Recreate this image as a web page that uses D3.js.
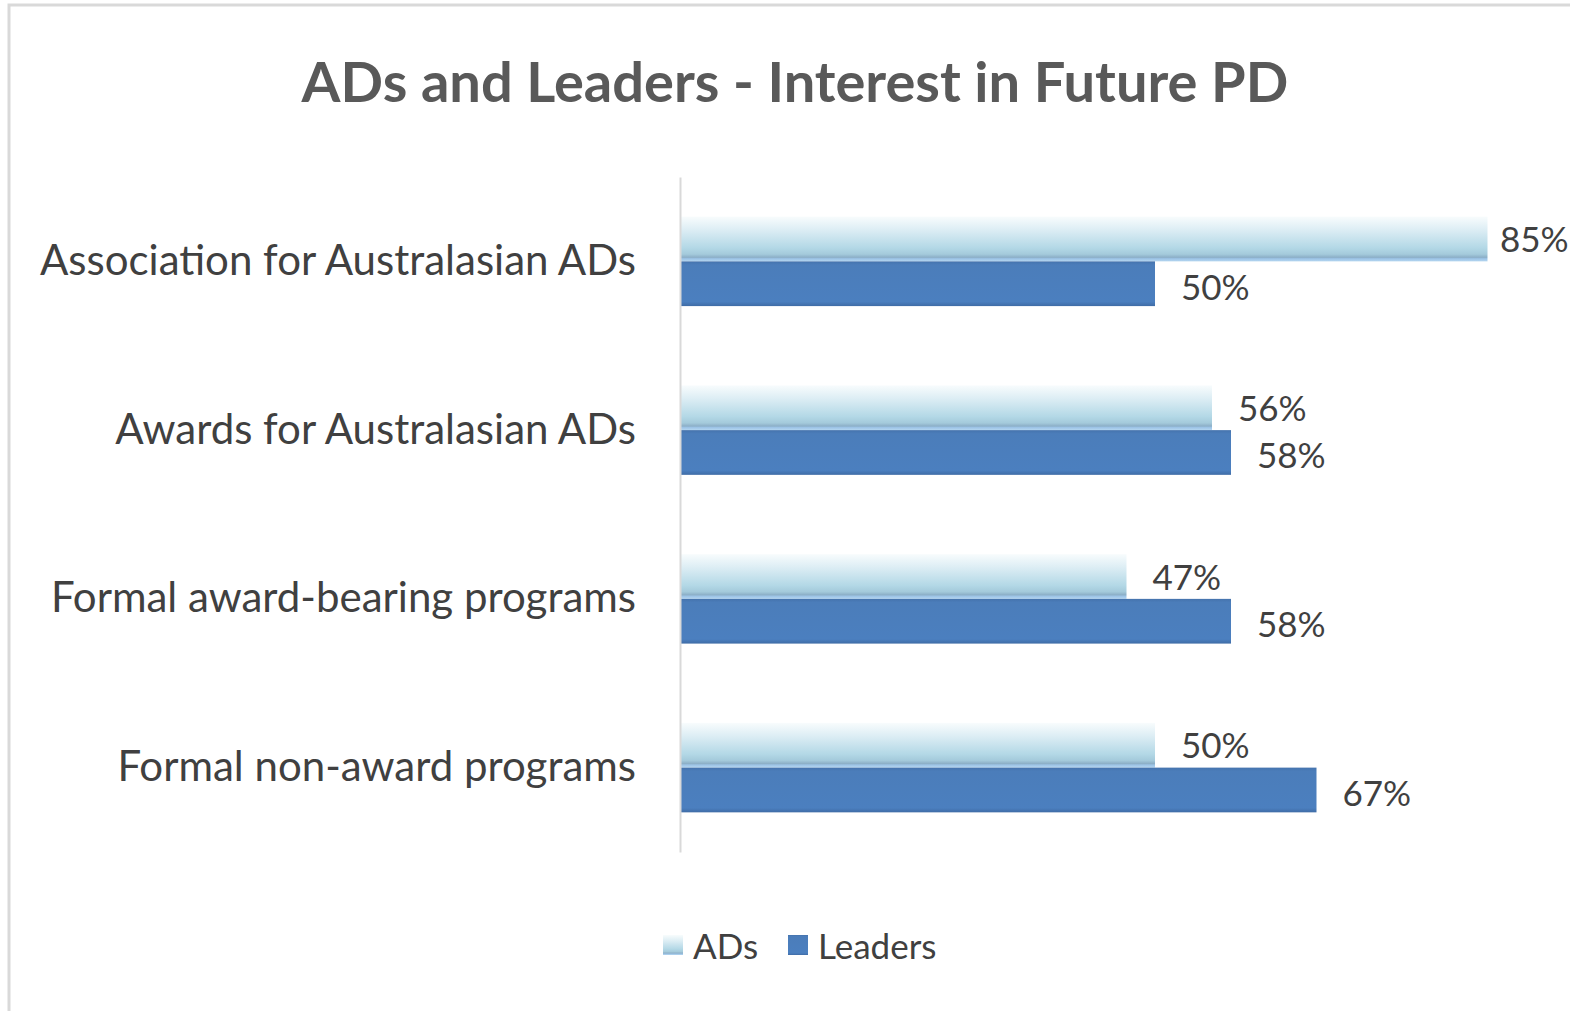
<!DOCTYPE html>
<html>
<head>
<meta charset="utf-8">
<script src="https://cdn.jsdelivr.net/npm/d3@7"></script>
<style>
  html, body { margin: 0; padding: 0; background: #fff; overflow: hidden; }
  text { font-family: Lato, "Open Sans", sans-serif; }
</style>
</head>
<body>
<div id="chart"></div>
<script>
const categories = [
  "Association for Australasian ADs",
  "Awards for Australasian ADs",
  "Formal award-bearing programs",
  "Formal non-award programs"
];
const adsValues = [85, 56, 47, 50];
const leadersValues = [50, 58, 58, 67];
const seriesNames = ["ADs", "Leaders"];

const width = 1570, height = 1011;
const textColor = "#404040";

const svg = d3.select("#chart").append("svg")
  .attr("width", width)
  .attr("height", height);

// gradients
const defs = svg.append("defs");
const adGrad = defs.append("linearGradient")
  .attr("id", "adGrad").attr("x1", 0).attr("y1", 0).attr("x2", 0).attr("y2", 1);
[["0%", "#f8fcfd"], ["30%", "#dcedf4"], ["70%", "#b3d8e6"], ["84%", "#a4cadb"],
 ["91%", "#8cafc7"], ["94%", "#9cc3e6"], ["100%", "#b4d6f0"]]
  .forEach(([o, c]) => adGrad.append("stop").attr("offset", o).attr("stop-color", c));

const ldGrad = defs.append("linearGradient")
  .attr("id", "ldGrad").attr("x1", 0).attr("y1", 0).attr("x2", 0).attr("y2", 1);
[["0%", "#4573ad"], ["8%", "#4b7dba"], ["90%", "#4b7fbf"], ["100%", "#3f6ca6"]]
  .forEach(([o, c]) => ldGrad.append("stop").attr("offset", o).attr("stop-color", c));

// frame
svg.append("rect")
  .attr("x", 9).attr("y", 5)
  .attr("width", width + 10).attr("height", height + 10)
  .attr("fill", "none")
  .attr("stroke", "#d9d9d9")
  .attr("stroke-width", 3);

// title
svg.append("text")
  .attr("x", 795)
  .attr("y", 80)
  .attr("text-anchor", "middle")
  .attr("dominant-baseline", "central")
  .style("font-size", "56px")
  .style("font-weight", "bold")
  .attr("fill", "#595959")
  .text("ADs and Leaders - Interest in Future PD");

const x = d3.scaleLinear().domain([0, 100]).range([680, 1630]);
const y = d3.scaleBand().domain(categories).range([177, 852])
  .paddingInner(0.47).paddingOuter(0.235);
const sub = d3.scaleBand().domain(seriesNames).range([0, y.bandwidth()]);

const data = categories.map((c, i) => ({ cat: c, values: [adsValues[i], leadersValues[i]] }));

const groups = svg.append("g").selectAll("g")
  .data(data)
  .join("g")
  .attr("transform", d => `translate(0,${y(d.cat)})`);

groups.selectAll("rect")
  .data(d => d.values.map((v, j) => ({ key: seriesNames[j], v })))
  .join("rect")
  .attr("x", x(0))
  .attr("y", d => sub(d.key))
  .attr("width", d => x(d.v) - x(0))
  .attr("height", sub.bandwidth())
  .attr("fill", d => d.key === "ADs" ? "url(#adGrad)" : "url(#ldGrad)");

groups.selectAll("text")
  .data(d => d.values.map((v, j) => ({ key: seriesNames[j], v })))
  .join("text")
  .attr("x", d => Math.min(x(d.v) + 26, 1500))
  .attr("y", d => sub(d.key) + sub.bandwidth() / 2 + (d.key === "ADs" ? -1 : 2))
  .attr("dominant-baseline", "central")
  .style("font-size", "35px")
  .attr("fill", textColor)
  .text(d => d.v + "%");

// category axis
const yAxis = svg.append("g")
  .attr("transform", `translate(${x(0)},0)`)
  .call(d3.axisLeft(y).tickSize(0).tickPadding(44));
yAxis.select(".domain").attr("stroke", "#d9d9d9").attr("stroke-width", 2);
yAxis.selectAll("text")
  .style("font-size", "42px")
  .style("font-family", "Lato, sans-serif")
  .attr("fill", textColor);

// legend
const legend = svg.append("g").attr("transform", "translate(663,945)");
const legendX = d3.scaleOrdinal().domain(seriesNames).range([0, 125]);
const items = legend.selectAll("g")
  .data(seriesNames)
  .join("g")
  .attr("transform", d => `translate(${legendX(d)},0)`);
items.append("rect")
  .attr("x", 0).attr("y", -10)
  .attr("width", 20).attr("height", 20)
  .attr("fill", d => d === "ADs" ? "url(#adGrad)" : "url(#ldGrad)");
items.append("text")
  .attr("x", 30).attr("y", 0)
  .attr("dominant-baseline", "central")
  .style("font-size", "35px")
  .attr("fill", textColor)
  .text(d => d);
</script>
</body>
</html>
